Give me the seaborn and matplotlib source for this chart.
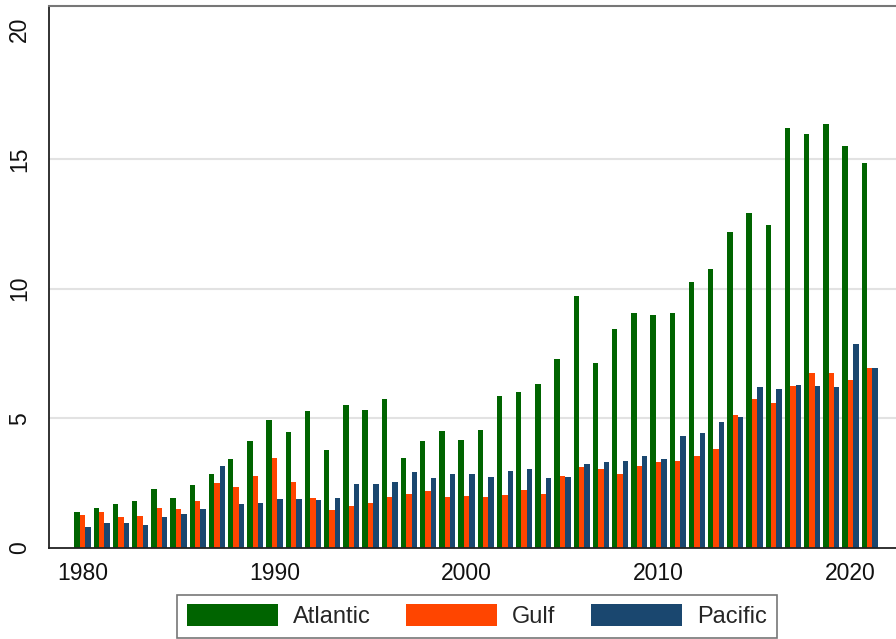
import numpy as np
import pandas as pd
import matplotlib
matplotlib.use("Agg")
import matplotlib.pyplot as plt
import seaborn as sns

years = list(range(1980, 2022))

atlantic = [1.39, 1.53, 1.69, 1.81, 2.29, 1.92, 2.41, 2.85, 3.44, 4.12,
            4.92, 4.48, 5.28, 3.78, 5.53, 5.31, 5.75, 3.46, 4.14, 4.50,
            4.17, 4.54, 5.84, 6.02, 6.33, 7.27, 9.72, 7.13, 8.46, 9.07,
            8.98, 9.06, 10.24, 10.75, 12.17, 12.90, 12.44, 16.19, 15.95, 16.36,
            15.49, 14.83]
gulf = [1.26, 1.39, 1.21, 1.24, 1.53, 1.51, 1.81, 2.52, 2.37, 2.77,
        3.46, 2.54, 1.94, 1.48, 1.62, 1.74, 1.96, 2.07, 2.21, 1.97,
        2.01, 1.98, 2.06, 2.24, 2.10, 2.78, 3.12, 3.04, 2.87, 3.17,
        3.32, 3.37, 3.54, 3.83, 5.11, 5.73, 5.57, 6.23, 6.74, 6.74,
        6.46, 6.95]
pacific = [0.82, 0.95, 0.95, 0.90, 1.20, 1.30, 1.51, 3.17, 1.69, 1.75,
           1.88, 1.90, 1.85, 1.94, 2.47, 2.48, 2.55, 2.91, 2.68, 2.86,
           2.84, 2.75, 2.95, 3.06, 2.68, 2.72, 3.24, 3.33, 3.36, 3.53,
           3.44, 4.30, 4.45, 4.86, 5.06, 6.19, 6.11, 6.27, 6.25, 6.19,
           7.86, 6.95]

regions = ["Atlantic", "Gulf", "Pacific"]
colors = ["#006400", "#FF4500", "#1A476F"]
year_labels = [1980, 1990, 2000, 2010, 2020]
y_ticks = [0, 5, 10, 15, 20]

df = pd.DataFrame({
    "year": years * 3,
    "value": atlantic + gulf + pacific,
    "region": [r for r in regions for _ in years],
})

sns.set_theme(style="white")
plt.rcParams["font.family"] = ["Liberation Sans", "DejaVu Sans"]

W, H = 896, 639
fig = plt.figure(figsize=(W / 100, H / 100), dpi=100)
left_px, right_px, top_px, bottom_px = 49, 902, 6, 548
ax = fig.add_axes([left_px / W, 1 - bottom_px / H,
                   (right_px - left_px) / W, (bottom_px - top_px) / H])

sns.barplot(data=df, x="year", y="value", hue="region", order=years,
            hue_order=regions, palette=colors, saturation=1, width=0.85,
            linewidth=0, ax=ax)

# categorical positions: 19.2 px per year, 1980 centred at x=82.5 px
px_per_year = 19.2
x0 = (left_px - 82.5) / px_per_year
x1 = (right_px - 82.5) / px_per_year
ax.set_xlim(x0, x1)
ax.set_ylim(0, 20.89)

ax.set_xticks([years.index(y) for y in year_labels])
ax.set_xticklabels([str(y) for y in year_labels], fontsize=16.5, color="#111111")
ax.set_yticks(y_ticks)
ax.set_yticklabels([str(v) for v in y_ticks], fontsize=16.5, rotation=90,
                   va="center", color="#111111")
ax.tick_params(axis="x", length=0, pad=10)
ax.tick_params(axis="y", length=7, width=1.2, color="#333333", pad=6)
ax.set_xlabel("")
ax.set_ylabel("")

# horizontal grid at interior ticks only
for v in y_ticks[1:-1]:
    ax.axhline(v, color="#e2e2e2", lw=1.5, zorder=0)

for side in ["left", "bottom"]:
    ax.spines[side].set_color("#222222")
    ax.spines[side].set_linewidth(1.3)
ax.spines["top"].set_color("#777777")
ax.spines["top"].set_linewidth(1.5)
ax.spines["right"].set_visible(False)

handles, labels = ax.get_legend_handles_labels()
ax.legend_.remove()
leg = fig.legend(handles, labels, loc="lower center",
                 bbox_to_anchor=(477 / W, 1.0 / H), ncol=3, fontsize=17,
                 frameon=True, fancybox=False, handlelength=3.85,
                 handleheight=1.0, handletextpad=0.64, columnspacing=1.49,
                 borderpad=0.42, borderaxespad=0)
leg.get_frame().set_edgecolor("#555555")
leg.get_frame().set_linewidth(1.2)

fig.savefig("out.png", dpi=100)
